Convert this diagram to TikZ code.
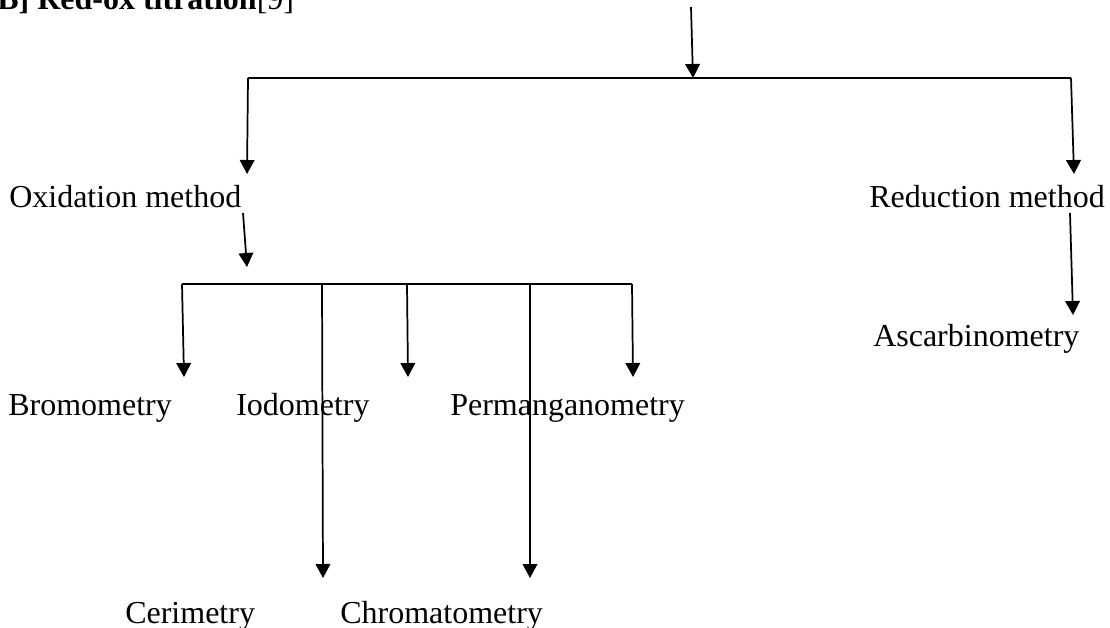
\documentclass[tikz,border=0pt]{standalone}
\usepackage{fontspec}
\setmainfont{Liberation Serif}
\usetikzlibrary{arrows.meta}
\tikzset{
  lbl/.style={inner sep=0pt, anchor=base west, font=\fontsize{24pt}{28pt}\selectfont},
  ttl/.style={inner sep=0pt, anchor=base west, font=\fontsize{24pt}{28pt}\selectfont\bfseries},
  conn/.style={line width=1.3pt, black},
  arr/.style={conn, -{Triangle[length=10.5pt,width=11pt]}}
}
\begin{document}
\begin{tikzpicture}[x=0.75pt,y=-0.75pt]
\useasboundingbox (0,0) rectangle (1110,628);
\begin{scope}
\clip (0,0) rectangle (1110,628);
\node[ttl] (title) at (-3,9) {B] Red-ox titration{\mdseries[9]}};
\end{scope}
% text nodes
\node[lbl] (ox) at (9,207) {Oxidation method};
\node[lbl] (red) at (869,207) {Reduction method};
\node[lbl] (asc) at (873,346) {Ascarbinometry};
\node[lbl] (brom) at (8,415) {Bromometry};
\node[lbl] (iod) at (236,415) {Iodometry};
\node[lbl] (perm) at (450,415) {Permanganometry};
\node[lbl] (cer) at (125,623) {Cerimetry};
\node[lbl] (chrom) at (340,623) {Chromatometry};
% junction coordinates
\coordinate (top) at (691,7);
\coordinate (topT) at (693,78);
\coordinate (mainL) at (248,78);
\coordinate (mainR) at (1071,78);
\coordinate (oxT) at (247,174);
\coordinate (redT) at (1074,174);
\coordinate (oxS) at (243,213);
\coordinate (barT) at (247,267);
\coordinate (redS) at (1070,213);
\coordinate (ascT) at (1073,315);
\coordinate (b1) at (182,284);
\coordinate (b2) at (322,284);
\coordinate (b3) at (407,284);
\coordinate (b4) at (530,284);
\coordinate (b5) at (632,284);
\coordinate (bromT) at (184,377);
\coordinate (cerT) at (323,578);
\coordinate (iodT) at (408,377);
\coordinate (chromT) at (530,578);
\coordinate (permT) at (633,377);
% connectors
\draw[arr] (top) -- (topT);
\draw[conn] (mainL) -- (mainR);
\draw[arr] (mainL) -- (oxT);
\draw[arr] (mainR) -- (redT);
\draw[arr] (oxS) -- (barT);
\draw[arr] (redS) -- (ascT);
\draw[conn] (b1) -- (b5);
\draw[arr] (b1) -- (bromT);
\draw[arr] (b2) -- (cerT);
\draw[arr] (b3) -- (iodT);
\draw[arr] (b4) -- (chromT);
\draw[arr] (b5) -- (permT);
\end{tikzpicture}
\end{document}
